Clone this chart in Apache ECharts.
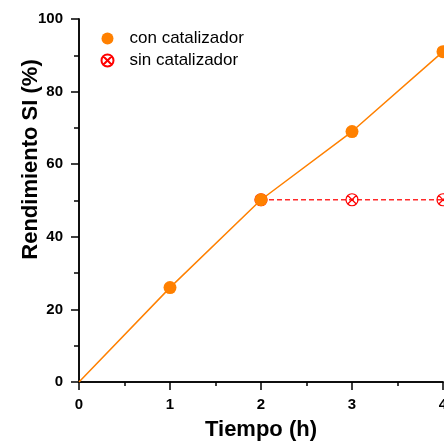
<!DOCTYPE html>
<html lang="es">
<head>
    <meta charset="UTF-8">
    <title>Rendimiento SI</title>
    <style>
        html, body { margin: 0; padding: 0; background: #fff; }
        #chart { width: 444px; height: 442px; }
    </style>
</head>
<body>
<div id="chart"></div>
<script src="https://cdn.jsdelivr.net/npm/echarts@6/dist/echarts.min.js"></script>
<script>
    // datos
    var tiempo = [0, 1, 2, 3, 4];
    var conCatalizador = [0, 26, 50.2, 69, 91];
    var tiempoSin = [2, 3, 4];
    var sinCatalizador = [50.2, 50.2, 50.2];
    var xTicks = [0, 1, 2, 3, 4];
    var yTicks = [0, 20, 40, 60, 80, 100];

    var font = 'Liberation Sans, Arial, sans-serif';
    // circulo con una X dentro
    var crossCircle = 'path://M10,0A10,10,0,1,1,9.99,0Z M2.9,2.9L17.1,17.1 M17.1,2.9L2.9,17.1';

    var conData = tiempo.map(function (t, i) {
        var p = { value: [t, conCatalizador[i]] };
        if (t === 0) p.symbol = 'none';
        return p;
    });
    var sinData = tiempoSin.map(function (t, i) {
        return [t, sinCatalizador[i]];
    });

    var myChart = echarts.init(document.getElementById('chart'));
    var black = { color: '#000', width: 1.5 };
    var option = {
        animation: false,
        textStyle: { fontFamily: font },
        grid: { left: 79, top: 19, right: 1, bottom: 60, containLabel: false, outerBoundsMode: 'none' },
        legend: {
            orient: 'vertical',
            left: 94,
            top: 25,
            itemGap: 5,
            itemWidth: 14,
            itemHeight: 12,
            textStyle: { fontSize: 17, color: '#000', fontFamily: font, padding: [0, 0, 0, 10] },
            data: [
                { name: 'con catalizador', icon: 'circle' },
                { name: 'sin catalizador', icon: crossCircle }
            ]
        },
        xAxis: [{
            type: 'value',
            min: xTicks[0],
            max: xTicks[xTicks.length - 1],
            interval: 1,
            name: 'Tiempo (h)',
            nameLocation: 'middle',
            nameGap: 37,
            nameMoveOverlap: false,
            nameTextStyle: { fontSize: 22, fontWeight: 'bold', color: '#000' },
            axisLine: { show: true, lineStyle: black },
            axisTick: { show: true, inside: false, length: 8, lineStyle: black },
            minorTick: { show: true, splitNumber: 2, length: 4, lineStyle: black },
            axisLabel: { fontSize: 15, fontWeight: 'bold', color: '#000', margin: 15 },
            splitLine: { show: false }
        }, {
            type: 'value',
            position: 'top',
            min: xTicks[0],
            max: xTicks[xTicks.length - 1],
            interval: 1,
            axisLine: { show: true, lineStyle: black },
            axisTick: { show: true, inside: true, length: 3, lineStyle: black },
            minorTick: { show: true, splitNumber: 2, length: 3, lineStyle: black },
            axisLabel: { show: false },
            splitLine: { show: false }
        }],
        yAxis: [{
            type: 'value',
            min: yTicks[0],
            max: yTicks[yTicks.length - 1],
            interval: 20,
            name: 'Rendimiento SI (%)',
            nameLocation: 'middle',
            nameGap: 37,
            nameMoveOverlap: false,
            nameTextStyle: { fontSize: 22, fontWeight: 'bold', color: '#000', padding: [0, 0, 0, 82] },
            axisLine: { show: true, lineStyle: black },
            axisTick: { show: true, inside: false, length: 8, lineStyle: black },
            minorTick: { show: true, splitNumber: 2, length: 5, lineStyle: black },
            axisLabel: { fontSize: 15, fontWeight: 'bold', color: '#000', margin: 16 },
            splitLine: { show: false }
        }, {
            type: 'value',
            position: 'right',
            min: yTicks[0],
            max: yTicks[yTicks.length - 1],
            interval: 20,
            axisLine: { show: true, lineStyle: black },
            axisTick: { show: false },
            axisLabel: { show: false },
            splitLine: { show: false }
        }],
        series: [{
            name: 'sin catalizador',
            type: 'line',
            data: sinData,
            symbol: crossCircle,
            symbolSize: 12,
            color: '#ff0000',
            lineStyle: { color: '#ff2a2a', width: 1.6, type: [5, 3] },
            itemStyle: { color: 'none', borderColor: '#ff0000', borderWidth: 1.2 },
            z: 2
        }, {
            name: 'con catalizador',
            type: 'line',
            data: conData,
            symbol: 'circle',
            symbolSize: 13,
            color: '#ff8000',
            lineStyle: { color: '#ff8000', width: 1.5 },
            itemStyle: { color: '#ff8000' },
            z: 3
        }]
    };
    myChart.setOption(option);
</script>
</body>
</html>
